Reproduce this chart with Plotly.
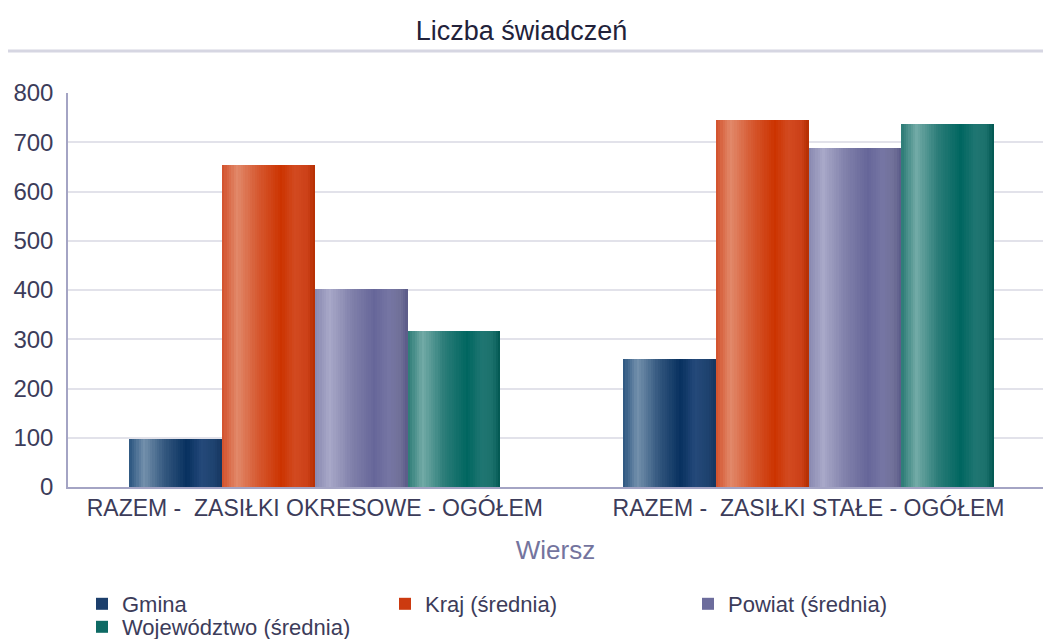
import plotly.graph_objects as go

# Data
categories = ["RAZEM -  ZASIŁKI OKRESOWE - OGÓŁEM", "RAZEM -  ZASIŁKI STAŁE - OGÓŁEM"]
series_names = ["Gmina", "Kraj (średnia)", "Powiat (średnia)", "Województwo (średnia)"]
gmina = [98, 260]
kraj = [653, 746]
powiat = [402, 689]
wojewodztwo = [317, 738]
series_values = [gmina, kraj, powiat, wojewodztwo]

# Horizontal shading of each bar: (position across bar, colour)
gradients = [
    [(0.0, "#2b5580"), (0.16, "#7390ac"), (0.38, "#34587f"), (0.62, "#07305f"), (0.78, "#24497a"), (0.92, "#1e426e"), (1.0, "#15355f")],
    [(0.0, "#d2502a"), (0.16, "#e2896a"), (0.38, "#d65a32"), (0.64, "#cc3300"), (0.78, "#d24a20"), (0.92, "#cc4018"), (1.0, "#b42e00")],
    [(0.0, "#8888b0"), (0.16, "#a8a8c8"), (0.40, "#8080aa"), (0.64, "#666699"), (0.80, "#7676a4"), (0.92, "#707098"), (1.0, "#5a5a88")],
    [(0.0, "#2a7a75"), (0.16, "#72aaa6"), (0.40, "#2a7c78"), (0.64, "#006660"), (0.80, "#207672"), (0.92, "#1a706b"), (1.0, "#005650")],
]
legend_colors = ["#1c3f6c", "#cc3a10", "#6c6c9c", "#0e6a64"]
# first three entries share the top legend row, the last one sits below
legend_ids = ["legend", "legend", "legend", "legend2"]

BAR_W = 0.188
N_SLICES = 40
FONT = "Liberation Sans, Arial, sans-serif"
TEXT = "#3c3c5a"


def hex_to_rgb(h):
    h = h.lstrip("#")
    return tuple(int(h[i:i + 2], 16) for i in (0, 2, 4))


def color_at(stops, t):
    for (p0, c0), (p1, c1) in zip(stops, stops[1:]):
        if p0 <= t <= p1:
            f = (t - p0) / (p1 - p0) if p1 > p0 else 0
            a, b = hex_to_rgb(c0), hex_to_rgb(c1)
            return "rgb(%d,%d,%d)" % tuple(round(a[k] + (b[k] - a[k]) * f) for k in range(3))
    return stops[-1][1]


fig = go.Figure()
n_series = len(series_names)
group_start = -BAR_W * n_series / 2

for s, (name, vals) in enumerate(zip(series_names, series_values)):
    start = group_start + s * BAR_W
    step = BAR_W / N_SLICES
    for i in range(N_SLICES):
        fig.add_trace(go.Bar(
            x=categories,
            y=vals,
            offset=start + i * step,
            width=BAR_W - i * step,
            marker=dict(color=color_at(gradients[s], (i + 0.5) / N_SLICES), line=dict(width=0)),
            name=name,
            legendgroup=name,
            showlegend=False,
            hoverinfo="skip" if i else "y+name",
        ))
    # legend entry for the series
    fig.add_trace(go.Bar(
        x=categories,
        y=[None, None],
        marker=dict(color=legend_colors[s], line=dict(width=0)),
        name=name,
        legendgroup=name,
        legend=legend_ids[s],
        showlegend=True,
    ))

legend_style = dict(
    orientation="h",
    x=82 / 1043, xref="container", xanchor="left",
    yref="container", yanchor="middle",
    entrywidth=258, entrywidthmode="pixels",
    font=dict(family=FONT, size=22, color=TEXT),
    tracegroupgap=0,
    bgcolor="rgba(0,0,0,0)",
)

fig.update_layout(
    width=1043,
    height=639,
    barmode="overlay",
    paper_bgcolor="white",
    plot_bgcolor="white",
    margin=dict(l=68, r=0, t=93, b=152),
    font=dict(family=FONT, size=22, color=TEXT),
    title=dict(
        text="Liczba świadczeń",
        x=0.5, xanchor="center",
        y=1 - 31 / 639, yanchor="middle", yref="container",
        font=dict(family=FONT, size=27, color="#22223a"),
    ),
    xaxis=dict(
        type="category",
        range=[-0.5, 1.475],
        showline=True, linecolor="#a4a4c4", linewidth=1.5,
        showgrid=False, ticks="",
        tickfont=dict(size=23, color=TEXT),
        title=dict(text="Wiersz", font=dict(size=26, color="#74749e"), standoff=20),
    ),
    yaxis=dict(
        range=[0, 800], dtick=100,
        showline=True, linecolor="#a4a4c4", linewidth=1.5,
        showgrid=True, gridcolor="#e2e2ea", gridwidth=1.5,
        zeroline=False, ticks="",
        ticklabelstandoff=8,
        tickfont=dict(size=24, color=TEXT),
    ),
    legend=dict(legend_style, y=1 - 604 / 639),
    legend2=dict(legend_style, y=1 - 627 / 639),
    shapes=[dict(
        type="line", xref="paper", yref="paper",
        x0=-60 / 975, x1=1.0, y0=1 + 42 / 394, y1=1 + 42 / 394,
        line=dict(color="#d6d6e2", width=3),
    )],
    bargap=0,
)

fig.write_html("out.html")
